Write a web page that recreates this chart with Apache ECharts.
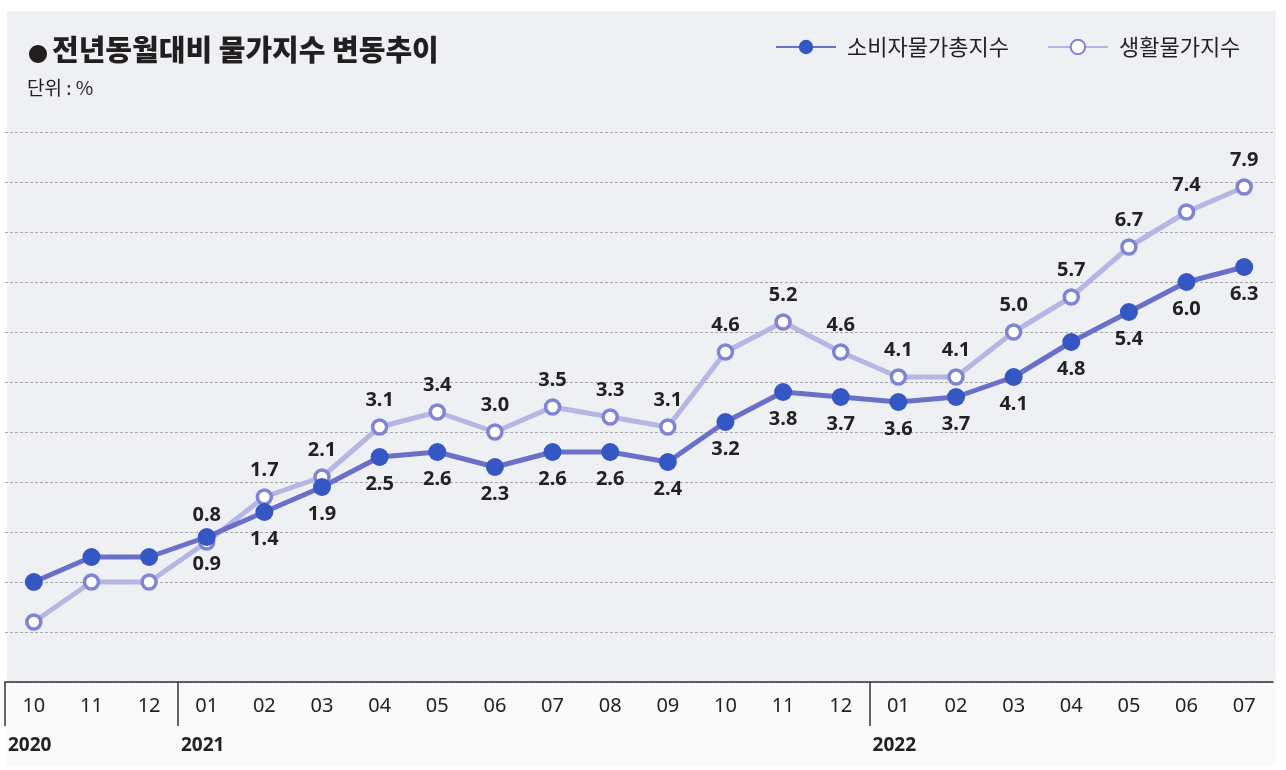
<!DOCTYPE html>
<html>
<head>
<meta charset="utf-8">
<script src="https://cdn.jsdelivr.net/npm/echarts@6.0.0/dist/echarts.min.js"></script>
<style>
  html, body { margin: 0; padding: 0; background: #ffffff; }
  #chart { width: 1286px; height: 770px; }
</style>
</head>
<body>
<div id="chart"></div>
<script>
  // months 2020-10 .. 2022-07
  const months = ["10", "11", "12", "01", "02", "03", "04", "05", "06", "07", "08",
    "09", "10", "11", "12", "01", "02", "03", "04", "05", "06", "07"];
  const years = [
    { index: 0, label: "2020" },
    { index: 3, label: "2021" },
    { index: 15, label: "2022" },
  ];
  const cpiTotal = [0.0, 0.5, 0.5, 0.9, 1.4, 1.9, 2.5, 2.6, 2.3, 2.6, 2.6,
    2.4, 3.2, 3.8, 3.7, 3.6, 3.7, 4.1, 4.8, 5.4, 6.0, 6.3];
  const livingCpi = [-0.8, 0.0, 0.0, 0.8, 1.7, 2.1, 3.1, 3.4, 3.0, 3.5, 3.3,
    3.1, 4.6, 5.2, 4.6, 4.1, 4.1, 5.0, 5.7, 6.7, 7.4, 7.9];
  // first three months have no printed label
  const unlabeled = 3;

  const chart = echarts.init(document.getElementById("chart"));
  const fontKr = "'Noto Sans CJK KR', 'Noto Sans', sans-serif";
  const yearIdx = years.map(function (y) { return y.index; });
  // one slot per month boundary, for the long year ticks
  const boundaries = months.concat([""]);

  const labelStyle = {
    show: true,
    fontFamily: "'Noto Sans', sans-serif",
    fontSize: 20,
    fontWeight: "bold",
    color: "#222222",
    distance: 8,
    formatter: function (p) {
      return p.dataIndex < unlabeled ? "" : p.value.toFixed(1);
    },
  };

  const option = {
    animation: false,
    backgroundColor: "#ffffff",
    graphic: [
      {
        type: "rect",
        z: -10,
        silent: true,
        shape: { x: 7, y: 11, width: 1269, height: 671 },
        style: { fill: "#eef0f4" },
      },
      {
        type: "rect",
        z: -10,
        silent: true,
        shape: { x: 7, y: 682, width: 1269, height: 84 },
        style: { fill: "#fafafb" },
      },
      {
        type: "text",
        left: 28,
        top: 44,
        style: {
          text: "●",
          font: "20px " + fontKr,
          fill: "#231f20",
        },
      },
      {
        type: "text",
        left: 52,
        top: 35,
        style: {
          text: "전년동월대비 물가지수 변동추이",
          font: "900 29px " + fontKr,
          fill: "#231f20",
        },
      },
      {
        type: "text",
        left: 27,
        top: 78,
        style: {
          text: "단위 : %",
          font: "400 19px " + fontKr,
          fill: "#231f20",
        },
      },
    ],
    legend: {
      left: 770,
      top: 31,
      itemWidth: 60,
      itemHeight: 18,
      itemGap: 38,
      textStyle: { fontFamily: fontKr, fontSize: 22, color: "#222222", padding: [0, 0, 0, 6] },
      data: ["소비자물가총지수", "생활물가지수"],
    },
    grid: { left: 5, right: 13, top: 132, bottom: 88 },
    xAxis: [
      {
        type: "category",
        data: months,
        boundaryGap: true,
        axisLine: { onZero: false, lineStyle: { color: "#333333", width: 1.5 } },
        axisTick: { interval: 0, length: 7, lineStyle: { color: "#333333", width: 1.5 } },
        axisLabel: {
          interval: 0,
          margin: 14,
          fontFamily: "'Noto Sans', sans-serif",
          fontSize: 20,
          color: "#222222",
        },
      },
      {
        type: "category",
        data: boundaries,
        position: "bottom",
        boundaryGap: false,
        axisLine: { show: false, onZero: false },
        axisLabel: { show: false },
        axisTick: {
          show: true,
          interval: function (i) { return yearIdx.indexOf(i) >= 0; },
          length: 44,
          lineStyle: { color: "#333333", width: 1.5 },
        },
      },
    ],
    yAxis: {
      type: "value",
      min: -2,
      max: 9,
      interval: 1,
      axisLine: { show: false },
      axisTick: { show: false },
      axisLabel: { show: false },
      splitLine: { lineStyle: { color: "#a8a8ad", type: [3, 2], width: 1 } },
    },
    series: [
      {
        name: "생활물가지수",
        type: "line",
        data: livingCpi,
        symbol: "circle",
        symbolSize: 14,
        lineStyle: { color: "#b5b6e3", width: 5 },
        itemStyle: { color: "#ffffff", borderColor: "#7f85d2", borderWidth: 3.5 },
        label: Object.assign({ position: "top" }, labelStyle),
        z: 2,
      },
      {
        name: "소비자물가총지수",
        type: "line",
        data: cpiTotal,
        symbol: "circle",
        symbolSize: 18,
        lineStyle: { color: "#6a70c7", width: 5 },
        itemStyle: { color: "#3557c3", borderWidth: 0 },
        label: Object.assign({ position: "bottom" }, labelStyle),
        z: 3,
      },
    ],
  };

  chart.setOption(option);

  // year captions start at the left boundary of their first month
  const yearTexts = years.map(function (y) {
    const bx = chart.convertToPixel({ xAxisIndex: 1 }, y.index);
    return {
      type: "text",
      x: bx + 3,
      y: 736,
      style: {
        text: y.label,
        font: "bold 19px 'Noto Sans', sans-serif",
        fill: "#222222",
      },
    };
  });
  chart.setOption({ graphic: option.graphic.concat(yearTexts) });
</script>
</body>
</html>
